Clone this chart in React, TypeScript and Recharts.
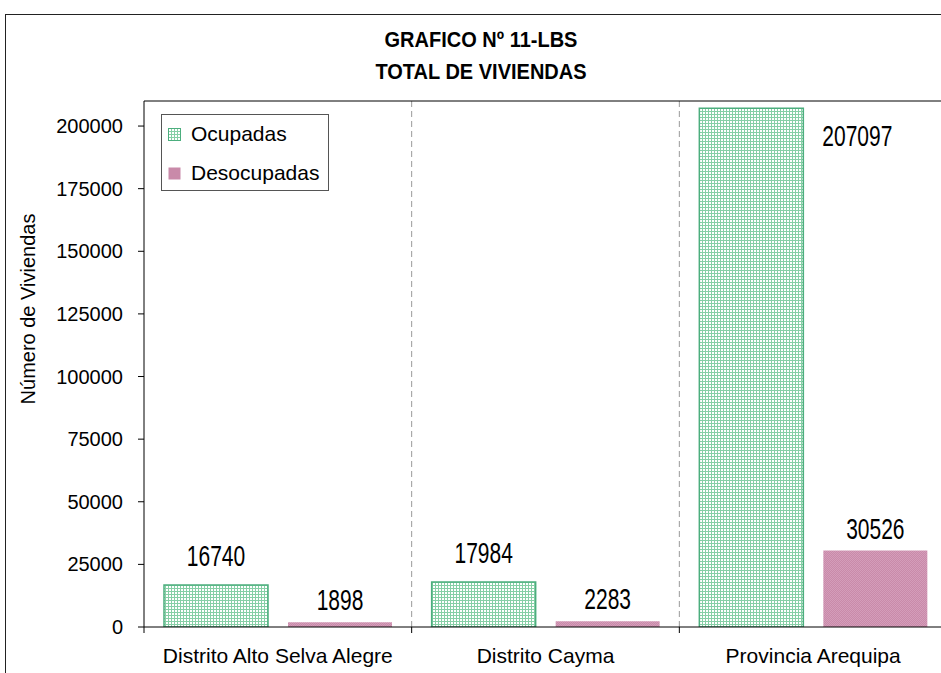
import { BarChart, Bar, XAxis, YAxis, CartesianGrid, LabelList } from "recharts"

const categories = ["Distrito Alto Selva Alegre", "Distrito Cayma", "Provincia Arequipa"]
const ocupadas = [16740, 17984, 207097]
const desocupadas = [1898, 2283, 30526]
const yTicks = [0, 25000, 50000, 75000, 100000, 125000, 150000, 175000, 200000]
const seriesNames = ["Ocupadas", "Desocupadas"]
const titleLines = ["GRAFICO Nº 11-LBS", "TOTAL DE VIVIENDAS"]
const yLabel = "Número de Viviendas"

const data = categories.map((name, i) => ({
  name,
  ocupadas: ocupadas[i],
  desocupadas: desocupadas[i],
}))

const FONT = "'Liberation Sans', Arial, Helvetica, sans-serif"
const CHART_W = 947
const CHART_H = 673
const Y_AXIS_W = 144
const PLOT_TOP = 101
const BAND = (CHART_W - Y_AXIS_W) / categories.length

const GREEN_LINE = "#86cfa6"
const GREEN_EDGE = "#4cae7e"
const PINK_A = "#c98aa9"
const PINK_B = "#d49dba"

// x tick: category name in the middle, tick mark on the left boundary
const CategoryTick = (props: any) => {
  const { x, y, payload } = props
  const bx = x - BAND / 2
  return (
    <g>
      <line x1={bx} y1={y - 6} x2={bx} y2={y} stroke="#000" />
      <text x={x} y={y} dy={30} textAnchor="middle" fontSize={21} fontFamily={FONT} fill="#000">
        {payload.value}
      </text>
    </g>
  )
}

// value labels look vertically stretched in the original
const makeLabel = (above: number) => (props: any) => {
  const { x, y, width, value } = props
  let tx = x + width / 2
  let ty = y - above
  let anchor = "middle"
  if (ty - 22 < PLOT_TOP) {
    // no room above: put it beside the bar
    tx = x + width + 19
    ty = y + 38
    anchor = "start"
  }
  return (
    <text
      transform={`translate(${tx},${ty}) scale(1,1.38)`}
      textAnchor={anchor}
      fontSize={21}
      fontFamily={FONT}
      fill="#000"
    >
      {value}
    </text>
  )
}

const LegendBox = () => (
  <div
    style={{
      position: "absolute",
      left: 161,
      top: 114,
      width: 166,
      height: 75,
      border: "1px solid #555",
      background: "#fff",
      fontFamily: FONT,
      fontSize: 21,
      color: "#000",
    }}
  >
    {seriesNames.map((n, i) => (
      <div key={n} style={{ position: "absolute", left: 6, top: 7 + i * 39, height: 24, lineHeight: "24px", display: "flex", alignItems: "center" }}>
        <svg width={13} height={13} style={{ marginRight: 10 }}>
          <rect x={0.5} y={0.5} width={12} height={12} fill={i === 0 ? "url(#legOcup)" : PINK_A} stroke={i === 0 ? GREEN_EDGE : "none"} />
          <defs>
            <pattern id="legOcup" width={3} height={3} patternUnits="userSpaceOnUse">
              <rect width={3} height={3} fill="#fff" />
              <rect width={3} height={1} fill={GREEN_LINE} />
              <rect width={1} height={3} fill={GREEN_LINE} />
            </pattern>
          </defs>
        </svg>
        <span>{n}</span>
      </div>
    ))}
  </div>
)

export default function App() {
  return (
    <div style={{ position: "relative", width: 941, height: 673, overflow: "hidden", background: "#fff" }}>
      <style>{`html,body{margin:0;padding:0;overflow:hidden;background:#fff}`}</style>
      <div
        style={{
          position: "absolute",
          left: 5,
          top: 14,
          width: 1000,
          height: 700,
          border: "1px solid #222",
        }}
      />
      {titleLines.map((t, i) => (
        <div
          key={t}
          style={{
            position: "absolute",
            left: 0,
            width: 962,
            top: 23 + i * 32,
            height: 32,
            lineHeight: "32px",
            textAlign: "center",
            fontFamily: FONT,
            fontWeight: "bold",
            fontSize: 20,
            transform: "scaleY(1.12)",
            color: "#000",
          }}
        >
          {t}
        </div>
      ))}
      <div
        style={{
          position: "absolute",
          left: 28 - 150,
          width: 300,
          top: 309 - 12,
          height: 24,
          lineHeight: "24px",
          textAlign: "center",
          fontFamily: FONT,
          fontSize: 20,
          transform: "rotate(-90deg)",
          color: "#000",
        }}
      >
        {yLabel}
      </div>
      <div style={{ position: "absolute", left: 0, top: 0 }}>
        <BarChart
          width={CHART_W}
          height={CHART_H}
          data={data}
          margin={{ top: PLOT_TOP, right: 0, left: 0, bottom: 0 }}
          barSize={104}
          barGap={20}
        >
          <defs>
            <pattern id="patOcup" width={3} height={3} patternUnits="userSpaceOnUse">
              <rect width={3} height={3} fill="#fff" />
              <rect width={3} height={1} fill={GREEN_LINE} />
              <rect width={1} height={3} fill={GREEN_LINE} />
            </pattern>
            <pattern id="patDesoc" width={2} height={2} patternUnits="userSpaceOnUse">
              <rect width={2} height={2} fill={PINK_A} />
              <rect width={1} height={1} fill={PINK_B} />
              <rect x={1} y={1} width={1} height={1} fill={PINK_B} />
            </pattern>
          </defs>
          <CartesianGrid
            horizontal={false}
            stroke="#999"
            strokeDasharray="6 4"
            verticalCoordinatesGenerator={({ offset }: any) =>
              categories.slice(1).map((_, i) => offset.left + (offset.width * (i + 1)) / categories.length)
            }
          />
          <CartesianGrid
            vertical={false}
            stroke="#000"
            horizontalCoordinatesGenerator={({ offset }: any) => [offset.top]}
          />
          <XAxis
            dataKey="name"
            interval={0}
            height={46}
            tickLine={false}
            tickSize={6}
            tickMargin={0}
            axisLine={{ stroke: "#000" }}
            tick={<CategoryTick />}
          />
          <YAxis
            width={Y_AXIS_W}
            domain={[0, 210000]}
            ticks={yTicks}
            allowDataOverflow
            tickSize={6}
            tickMargin={15}
            axisLine={{ stroke: "#000" }}
            tickLine={{ stroke: "#000" }}
            tick={{ fill: "#000", fontSize: 20, fontFamily: FONT }}
          />
          <Bar dataKey="ocupadas" name={seriesNames[0]} fill="url(#patOcup)" stroke={GREEN_EDGE} strokeWidth={1.5} isAnimationActive={false}>
            <LabelList dataKey="ocupadas" content={makeLabel(19)} />
          </Bar>
          <Bar dataKey="desocupadas" name={seriesNames[1]} fill="url(#patDesoc)" isAnimationActive={false}>
            <LabelList dataKey="desocupadas" content={makeLabel(12)} />
          </Bar>
        </BarChart>
      </div>
      <LegendBox />
    </div>
  )
}
